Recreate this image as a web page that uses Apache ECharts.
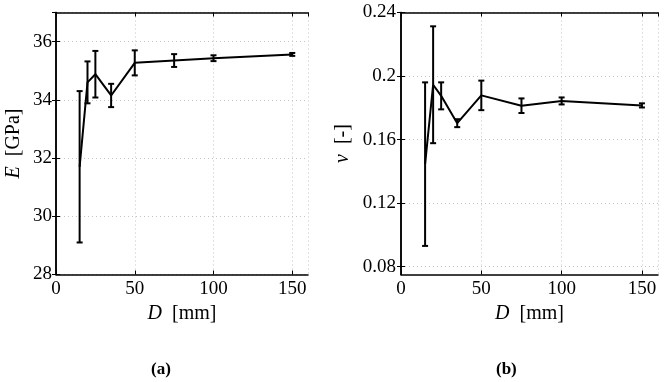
<!DOCTYPE html>
<html>
<head>
<meta charset="utf-8">
<script src="https://cdn.jsdelivr.net/npm/echarts@6/dist/echarts.min.js"></script>
<style>
  html, body { margin: 0; padding: 0; background: #fff; }
  #chart { width: 669px; height: 382px; }
</style>
</head>
<body>
<div id="chart"></div>
<script>
// sample diameters D [mm]
var diameters = [15, 20, 25, 35, 50, 75, 100, 150];
// (a) Young's modulus E [GPa], mean and half width of error bar
var eMean = [31.7, 34.6, 34.88, 34.15, 35.27, 35.35, 35.43, 35.56];
var eErr = [2.6, 0.72, 0.8, 0.4, 0.43, 0.22, 0.1, 0.05];
// (b) Poisson's ratio nu [-]
var nuMean = [0.1445, 0.1945, 0.1875, 0.1703, 0.1878, 0.1813, 0.1843, 0.1815];
var nuErr = [0.0515, 0.0368, 0.0085, 0.0025, 0.0093, 0.0046, 0.0022, 0.0013];

var xTicks = [0, 50, 100, 150];
var nuTicks = [0.08, 0.12, 0.16, 0.2, 0.24];

var serif = 'Liberation Serif';

function lineData(mean) {
    return diameters.map(function(d, i) { return [d, mean[i]]; });
}
function errData(mean, err) {
    return diameters.map(function(d, i) { return [d, mean[i] - err[i], mean[i] + err[i]]; });
}

function renderErr(params, api) {
    var lo = api.coord([api.value(0), api.value(1)]);
    var hi = api.coord([api.value(0), api.value(2)]);
    var w = 3;
    var st = { stroke: '#000', lineWidth: 2 };
    return {
        type: 'group',
        children: [
            { type: 'line', shape: { x1: lo[0], y1: lo[1], x2: hi[0], y2: hi[1] }, style: st },
            { type: 'line', shape: { x1: lo[0] - w, y1: lo[1], x2: lo[0] + w, y2: lo[1] }, style: st },
            { type: 'line', shape: { x1: hi[0] - w, y1: hi[1], x2: hi[0] + w, y2: hi[1] }, style: st }
        ]
    };
}

var axisLine = { lineStyle: { color: '#000', width: 1.5 } };
var tick = { inside: true, length: 4, lineStyle: { color: '#000', width: 1 } };
var grid = { lineStyle: { color: '#c4c4c4', type: [1, 3], width: 1 } };
var labelFont = { color: '#000', fontFamily: serif, fontSize: 19 };
var nameFont = {
    color: '#000', fontFamily: serif, fontSize: 20,
    rich: { i: { fontStyle: 'italic', fontFamily: serif, fontSize: 20, color: '#000' } }
};

function mainX(gi) {
    return {
        type: 'value', gridIndex: gi, min: 0, max: 160, interval: 50,
        axisLine: axisLine, axisTick: tick, splitLine: grid,
        axisLabel: Object.assign({ margin: 5, showMaxLabel: false }, labelFont),
        name: '{i|D}  [mm]', nameLocation: 'middle', nameGap: 26,
        nameTextStyle: nameFont
    };
}
function boxX(gi) {
    return {
        type: 'value', gridIndex: gi, min: 0, max: 160, interval: 50, position: 'top',
        axisLine: axisLine, axisTick: tick, splitLine: { show: false }, axisLabel: { show: false }
    };
}

var chart = echarts.init(document.getElementById('chart'));
var option = {
    animation: false,
    backgroundColor: '#fff',
    title: [
        { text: '(a)', left: 146, top: 356, textStyle: { fontFamily: serif, fontSize: 17, fontWeight: 'bold', color: '#000' } },
        { text: '(b)', left: 491, top: 356, textStyle: { fontFamily: serif, fontSize: 17, fontWeight: 'bold', color: '#000' } }
    ],
    grid: [
        { left: 56, top: 12.5, width: 252, height: 262 },
        { left: 401, top: 12.5, width: 257, height: 262 }
    ],
    xAxis: [mainX(0), boxX(0), mainX(1), boxX(1)],
    yAxis: [
        {
            type: 'value', gridIndex: 0, min: 28, max: 37, interval: 2,
            axisLine: axisLine, axisTick: tick, splitLine: grid,
            axisLabel: Object.assign({ margin: 4, showMaxLabel: false }, labelFont),
            name: '{i|E}  [GPa]', nameLocation: 'middle', nameGap: 32,
            nameTextStyle: nameFont
        },
        {
            type: 'value', gridIndex: 0, min: 28, max: 37, interval: 2, position: 'right',
            axisLine: axisLine, axisTick: tick, splitLine: { show: false }, axisLabel: { show: false }
        },
        {
            type: 'value', gridIndex: 1, min: 0.075, max: 0.24,
            axisLine: axisLine,
            axisTick: Object.assign({ customValues: nuTicks }, tick),
            splitLine: grid,
            axisLabel: Object.assign({ margin: 5, customValues: nuTicks }, labelFont),
            name: '{i|ν}  [-]', nameLocation: 'middle', nameGap: 48,
            nameTextStyle: nameFont
        },
        {
            type: 'value', gridIndex: 1, min: 0.075, max: 0.24, position: 'right',
            axisLine: axisLine,
            axisTick: Object.assign({ customValues: nuTicks }, tick),
            splitLine: { show: false }, axisLabel: { show: false }
        }
    ],
    series: [
        {
            type: 'line', xAxisIndex: 0, yAxisIndex: 0, data: lineData(eMean),
            showSymbol: false, lineStyle: { color: '#000', width: 2 }, z: 3
        },
        {
            type: 'custom', xAxisIndex: 0, yAxisIndex: 0, data: errData(eMean, eErr),
            renderItem: renderErr, z: 4
        },
        {
            type: 'line', xAxisIndex: 2, yAxisIndex: 2, data: lineData(nuMean),
            showSymbol: false, lineStyle: { color: '#000', width: 2 }, z: 3
        },
        {
            type: 'custom', xAxisIndex: 2, yAxisIndex: 2, data: errData(nuMean, nuErr),
            renderItem: renderErr, z: 4
        }
    ]
};
chart.setOption(option);
</script>
</body>
</html>
